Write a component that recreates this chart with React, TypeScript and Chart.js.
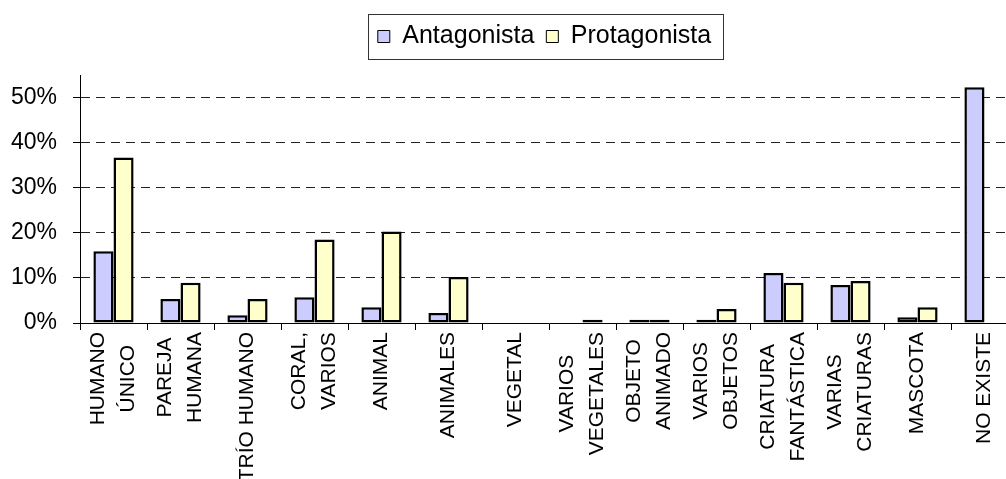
import React, { useEffect, useRef } from 'react';
import { Chart, registerables } from 'chart.js';

Chart.register(...registerables);

const FONT = '"Liberation Sans", Arial, sans-serif';

const categories: string[][] = [
  ['HUMANO', 'ÚNICO'],
  ['PAREJA', 'HUMANA'],
  ['TRÍO HUMANO'],
  ['CORAL,', 'VARIOS'],
  ['ANIMAL'],
  ['ANIMALES'],
  ['VEGETAL'],
  ['VARIOS', 'VEGETALES'],
  ['OBJETO', 'ANIMADO'],
  ['VARIOS', 'OBJETOS'],
  ['CRIATURA', 'FANTÁSTICA'],
  ['VARIAS', 'CRIATURAS'],
  ['MASCOTA'],
  ['NO EXISTE'],
];

const antagonista = [15.9, 5.3, 1.7, 5.7, 3.5, 2.2, 0, 0, 0.7, 0.7, 11.1, 8.4, 1.3, 52.3];
const protagonista = [36.7, 8.9, 5.3, 18.5, 20.3, 10.2, 0, 0.7, 0.7, 3.1, 8.9, 9.3, 3.5, 0];

const seriesNames = ['Antagonista', 'Protagonista'];
const yTicks = [0, 10, 20, 30, 40, 50];
const yMax = 55;

const centerLabelsPlugin = {
  id: 'centerLabels',
  beforeDraw(chart: any) {
    const xs = chart.scales.x;
    if (!xs) return;
    const items = xs.getLabelItems();
    const ctx = chart.ctx;
    ctx.save();
    for (const it of items) {
      if (it._c) continue;
      const lines: string[] = Array.isArray(it.label) ? it.label : [it.label];
      ctx.font = it.font.string;
      const w = Math.max(...lines.map((l) => ctx.measureText(l).width));
      const lh = it.font.lineHeight;
      const tr = it.options.translation;
      it.options.textAlign = 'center';
      it.options.translation = [tr[0] - ((lines.length - 1) * lh) / 2, tr[1] + w / 2];
      it._c = true;
    }
    ctx.restore();
  },
};

const legendPlacePlugin = {
  id: 'legendPlace',
  afterLayout(chart: any) {
    const lg = chart.legend;
    if (lg) {
      lg.left = 0;
      lg.right = 1089;
    }
  },
  afterDraw(chart: any) {
    const lg = chart.legend;
    if (!lg || !lg.legendHitBoxes || !lg.legendHitBoxes.length) return;
    const hb = lg.legendHitBoxes;
    const first = hb[0];
    const last = hb[hb.length - 1];
    const l = Math.round(first.left - 10);
    const r = Math.round(last.left + last.width + 12);
    const cy = first.top + first.height / 2;
    const t = Math.round(cy - 22.5);
    const b = Math.round(cy + 22.5);
    const ctx = chart.ctx;
    ctx.save();
    ctx.strokeStyle = '#333';
    ctx.lineWidth = 1;
    ctx.strokeRect(l + 0.5, t + 0.5, r - l, b - t);
    ctx.restore();
  },
};

export default function App() {
  const ref = useRef<HTMLCanvasElement | null>(null);

  useEffect(() => {
    if (!ref.current) return;
    const chart = new Chart(ref.current, {
      type: 'bar',
      data: {
        labels: categories,
        datasets: [
          {
            label: seriesNames[0],
            data: antagonista,
            backgroundColor: '#ccccff',
            borderColor: '#000000',
            borderWidth: 2.5,
            borderSkipped: false,
            categoryPercentage: 0.6,
            barPercentage: 1.0,
          },
          {
            label: seriesNames[1],
            data: protagonista,
            backgroundColor: '#ffffcc',
            borderColor: '#000000',
            borderWidth: 2.5,
            borderSkipped: false,
            categoryPercentage: 0.6,
            barPercentage: 1.0,
          },
        ],
      },
      options: {
        responsive: false,
        animation: false,
        devicePixelRatio: 1,
        layout: { padding: { top: 12, left: 0, right: 0, bottom: 0 } },
        events: [],
        plugins: {
          tooltip: { enabled: false },
          title: {
            display: true,
            text: '',
            weight: 500,
            padding: 0,
            font: { size: 16, lineHeight: 1 },
          },
          legend: {
            display: true,
            position: 'top',
            labels: {
              boxWidth: 12,
              boxHeight: 12,
              padding: 12,
              color: '#000',
              font: { family: FONT, size: 25 },
              generateLabels: (chart: any) =>
                Chart.defaults.plugins.legend.labels
                  .generateLabels(chart)
                  .map((it: any) => ({ ...it, lineWidth: 1 })),
            },
          },
        },
        scales: {
          x: {
            offset: true,
            afterFit: (s: any) => {
              s.height = 156;
            },
            ticks: {
              autoSkip: false,
              minRotation: 90,
              maxRotation: 90,
              color: '#000',
              padding: 2,
              font: { family: FONT, size: 21, lineHeight: 1.43 },
            },
            grid: {
              drawOnChartArea: false,
              tickLength: 7,
              color: '#000',
              offset: true,
            },
            border: { color: '#000', width: 1, z: 1 },
          },
          y: {
            min: 0,
            max: yMax,
            afterBuildTicks: (s: any) => {
              s.ticks = yTicks.map((v) => ({ value: v }));
            },
            afterFit: (s: any) => {
              s.width = 80;
            },
            ticks: {
              color: '#000',
              padding: 16,
              font: { family: FONT, size: 23 },
              callback: (v: any) => `${v}%`,
            },
            grid: {
              color: (c: any) => (c.tick && c.tick.value === 0 ? 'rgba(0,0,0,0)' : '#222'),
              tickColor: '#000',
              tickLength: 7,
              lineWidth: 1,
            },
            border: { color: '#000', width: 1, dash: [9, 6], z: 1 },
          },
        },
      } as any,
      plugins: [centerLabelsPlugin, legendPlacePlugin],
    });
    return () => chart.destroy();
  }, []);

  return (
    <div
      style={{
        position: 'absolute',
        left: 0,
        top: 0,
        width: 1006,
        height: 479,
        overflow: 'hidden',
        background: '#fff',
      }}
    >
      <canvas ref={ref} width={1018} height={479} style={{ display: 'block', width: 1018, height: 479 }} />
    </div>
  );
}
